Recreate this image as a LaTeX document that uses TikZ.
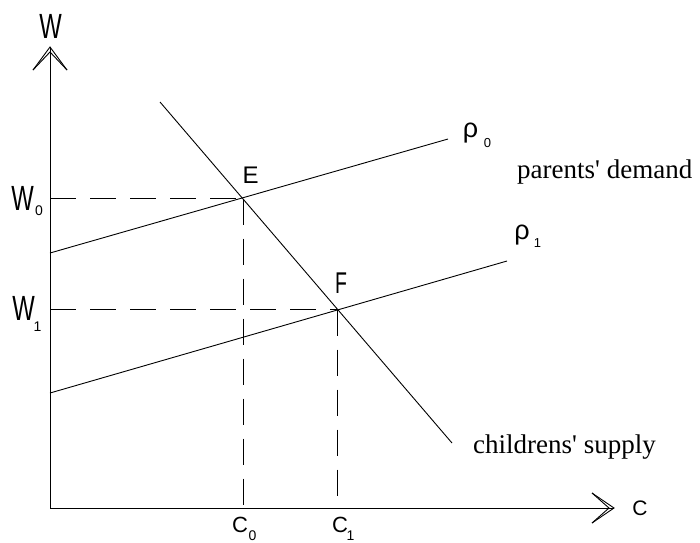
\documentclass[tikz,border=0pt]{standalone}
\usepackage{fontspec}
\setmainfont{Liberation Serif}
\newfontfamily\labfont{Liberation Sans}
\tikzset{
  curve/.style={line width=0.9pt, black},
  guide/.style={line width=0.9pt, black, dash pattern=on 26pt off 14pt},
  lab/.style={inner sep=0pt, anchor=base},
  note/.style={inner sep=0pt, anchor=base west, font=\fontsize{27}{27}\selectfont}
}
\begin{document}
\begin{tikzpicture}[x=1pt,y=-1pt]
\useasboundingbox (0,0) rectangle (700,542);
% axes
\coordinate (O) at (50,508);
\coordinate (Ytip) at (50,47);
\coordinate (Yin) at (50,52);
\coordinate (Yw1) at (33,70);
\coordinate (Yw2) at (67,70);
\coordinate (Xtip) at (614,508);
\coordinate (Xin) at (609,508);
\coordinate (Xw1) at (592,493);
\coordinate (Xw2) at (592,523);
\draw[curve] (O) -- (Ytip);
\draw[curve] (O) -- (Xtip);
\draw[curve] (Yw1) -- (Ytip) -- (Yw2);
\draw[curve] (Yw1) -- (Yin) -- (Yw2);
\draw[curve] (Xw1) -- (Xtip) -- (Xw2);
\draw[curve] (Xw1) -- (Xin) -- (Xw2);
% curves
\coordinate (A0) at (50,253);
\coordinate (B0) at (448,139);
\coordinate (A1) at (50,393);
\coordinate (B1) at (507,261);
\coordinate (S0) at (160,102);
\coordinate (S1) at (452,443);
\draw[curve] (A0) -- (B0);
\draw[curve] (A1) -- (B1);
\draw[curve] (S0) -- (S1);
% equilibria
\coordinate (E) at (243,198.5);
\coordinate (F) at (337,309.5);
\coordinate (W0) at (50,198.5);
\coordinate (W1) at (50,309.5);
\coordinate (C0) at (243,508);
\coordinate (C1) at (337,508);
\draw[guide] (W0) -- (E);
\draw[guide] (E) -- (C0);
\draw[guide] (W1) -- (F);
\draw[guide] (F) -- (C1);
% labels
\node[lab, font=\labfont\fontsize{35}{35}\selectfont] (lW) at (50.5,38) {\scalebox{0.68}[1]{W}};
\node[lab, font=\labfont\fontsize{35}{35}\selectfont] (lW0) at (22.5,210) {\scalebox{0.68}[1]{W}};
\node[lab, font=\labfont\fontsize{14}{14}\selectfont] (lW0s) at (39,215) {0};
\node[lab, font=\labfont\fontsize{35}{35}\selectfont] (lW1) at (23.5,320) {\scalebox{0.68}[1]{W}};
\node[lab, font=\labfont\fontsize{14}{14}\selectfont] (lW1s) at (37.5,331) {1};
\node[lab, font=\labfont\fontsize{21}{21}\selectfont] (lC) at (640,515) {C};
\node[lab, font=\labfont\fontsize{22}{22}\selectfont] (lC0) at (240,532) {C};
\node[lab, font=\labfont\fontsize{14}{14}\selectfont] (lC0s) at (252.5,540.5) {0};
\node[lab, font=\labfont\fontsize{22}{22}\selectfont] (lC1) at (340,532) {C};
\node[lab, font=\labfont\fontsize{14}{14}\selectfont] (lC1s) at (350.5,540.5) {1};
\node[lab, font=\labfont\fontsize{24}{24}\selectfont] (lE) at (250.5,183) {E};
\node[lab, font=\labfont\fontsize{30}{30}\selectfont] (lF) at (341,293) {\scalebox{0.65}[1]{F}};
\node[lab, font=\labfont\fontsize{27}{27}\selectfont] (lr0) at (470.5,137) {ρ};
\node[lab, font=\labfont\fontsize{13}{13}\selectfont] (lr0s) at (487.5,147) {0};
\node[lab, font=\labfont\fontsize{27}{27}\selectfont] (lr1) at (522,239) {ρ};
\node[lab, font=\labfont\fontsize{13}{13}\selectfont] (lr1s) at (537.5,247) {1};
\node[note] (pd) at (517,178) {parents\textquotesingle\ demand};
\node[note] (cs) at (473,453) {childrens\textquotesingle\ supply};
\end{tikzpicture}
\end{document}
